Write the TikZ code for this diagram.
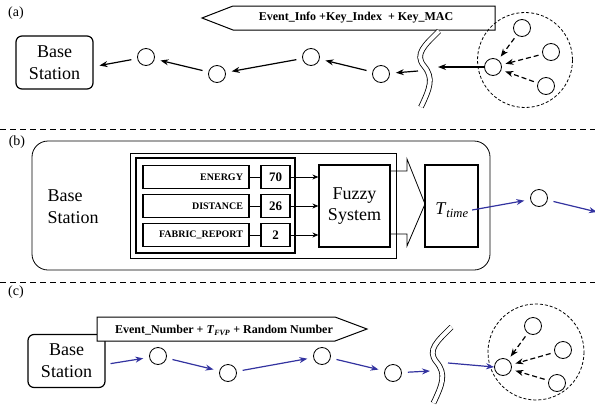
\documentclass[tikz,border=0pt]{standalone}
\usepackage{fontspec}
\setmainfont{Liberation Serif}
\usetikzlibrary{arrows.meta}

\definecolor{msgblue}{RGB}{51,51,160}

\tikzset{
    station/.style={draw, line width=1.2pt, rounded corners=6pt, minimum width=77pt, minimum height=53pt, align=center, font=\fontsize{18}{22}\selectfont},
    sensor/.style={draw, circle, line width=0.8pt, minimum size=17pt, inner sep=0pt},
    hop/.style={->, line width=1.2pt, shorten <=6pt, shorten >=6pt},
    bluehop/.style={hop, color=msgblue},
    relay/.style={->, line width=1.2pt, dash pattern=on 5pt off 3pt, shorten <=4pt, shorten >=4pt},
    packet/.style={draw, line width=1pt, fill=white},
    param/.style={draw, line width=1.2pt, minimum height=23pt, text width=94pt, inner xsep=6pt, align=right, font=\fontsize{10}{12}\selectfont\bfseries},
    value/.style={draw, line width=1.2pt, minimum width=29pt, minimum height=23pt, inner sep=0pt, font=\fontsize{13}{15}\selectfont\bfseries},
    panel/.style={font=\fontsize{14}{16}\selectfont},
    sep/.style={line width=1pt, dash pattern=on 6pt off 4pt},
    cluster/.style={line width=0.8pt, dash pattern=on 3pt off 2pt},
    wavecut/.pic={\draw[double distance=4pt, line width=0.8pt] (0,0) .. controls (-14,14) and (-25,23) .. (-15,35) .. controls (-5,47) and (-9,57) .. (-18,76);}
}

\begin{document}
\begin{tikzpicture}[x=1pt, y=-1pt, >={Stealth[length=8pt, width=6pt]}]
    \useasboundingbox (0,0) rectangle (595,410);

    % (a) event report towards the base station
    \node[panel] (pa) at (16,13) {(a)};
    \draw[packet] (202,18) -- (233,6) -- (495,6) -- (495,30) -- (233,30) -- cycle;
    \node (infoa) at (356,18) {\fontsize{12}{14}\selectfont\bfseries Event\_Info +Key\_Index\ \ + Key\_MAC};
    \node[station] (bsa) at (54.5,62.5) {Base\\Station};
    \node[sensor] (a1) at (146,57) {};
    \node[sensor] (a2) at (217,74) {};
    \node[sensor] (a3) at (311,57) {};
    \node[sensor] (a4) at (381,74) {};
    \pic at (439,31) {wavecut};
    \coordinate (wa_in) at (438,67);
    \coordinate (wa_out) at (418,71);
    \draw[cluster] (525,60) circle (47.5);
    \node[sensor] (ha) at (493,67) {};
    \node[sensor] (ta) at (522,28) {};
    \node[sensor] (ra) at (551,52) {};
    \node[sensor] (ba) at (546,86) {};
    \draw[relay] (ta) -- (ha);
    \draw[relay] (ra) -- (ha);
    \draw[relay] (ba) -- (ha);
    \draw[hop, shorten <=0pt, shorten >=0pt] (ha) -- (wa_in);
    \draw[hop, shorten <=0pt] (wa_out) -- (a4);
    \draw[hop] (a4) -- (a3);
    \draw[hop] (a3) -- (a2);
    \draw[hop] (a2) -- (a1);
    \draw[hop] (a1) -- (bsa.-6);

    \draw[sep] (0,129) -- (595,129);

    % (b) fuzzy evaluation inside the base station
    \node[panel] (pb) at (17,142) {(b)};
    \draw[line width=0.8pt, rounded corners=16pt] (32,141) rectangle (490,270);
    \node[anchor=west, align=left, font=\fontsize{18}{22}\selectfont] (bsb) at (44,207) {Base\\Station};
    \draw[line width=0.8pt] (130,153) rectangle (396,258);
    \draw[line width=1.2pt] (136,158) rectangle (295,253);
    \node[param] (pe) at (196,177) {ENERGY};
    \node[param] (pd) at (196,206) {DISTANCE};
    \node[param] (pf) at (196,235) {FABRIC\_REPORT};
    \node[value] (ve) at (275.5,177) {70};
    \node[value] (vd) at (275.5,206) {26};
    \node[value] (vf) at (275.5,235) {2};
    \node[draw, line width=1.2pt, minimum width=71pt, minimum height=82pt, align=center, font=\fontsize{18}{21}\selectfont] (fuzzy) at (354.5,206) {Fuzzy\\System};
    \foreach \p/\v in {pe/ve, pd/vd, pf/vf} {
        \draw[line width=0.8pt] (\p.east) -- (\v.west);
        \draw[->, >={Stealth[length=6pt, width=5pt]}, line width=0.8pt] (\v.east) -- (\v.east -| fuzzy.west);
    }
    \draw[line width=0.8pt] (390,171) -- (407,171) -- (407,159) -- (425,204) -- (407,246) -- (407,234) -- (390,234);
    \node[draw, line width=1.2pt, minimum width=53pt, minimum height=82pt] (tbox) at (451.5,206) {};
    \node (ttext) at (452,210) {\fontsize{18}{20}\selectfont\textit{T}\textsubscript{\textit{time}}};
    \node[sensor] (b1) at (539,198) {};
    \coordinate (bout) at (597,212);
    \draw[bluehop, shorten <=0pt] (ttext.east) -- (b1);
    \draw[bluehop, shorten >=0pt] (b1) -- (bout);

    \draw[sep] (0,282) -- (595,282);

    % (c) broadcast back to the cluster
    \node[panel] (pc) at (16,292) {(c)};
    \node[station] (bsc) at (66.5,361) {Base\\Station};
    \draw[packet] (97,317) -- (335,317) -- (367,329) -- (335,341) -- (97,341) -- cycle;
    \node (infoc) at (224,330) {\fontsize{12}{14}\selectfont\bfseries Event\_Number + \textit{T}\textsubscript{\textit{FVP}} + Random Number};
    \node[sensor] (c1) at (158,356) {};
    \node[sensor] (c2) at (228,373) {};
    \node[sensor] (c3) at (322,356) {};
    \node[sensor] (c4) at (393,373) {};
    \pic at (451.5,327) {wavecut};
    \coordinate (wc_in) at (430,371);
    \coordinate (wc_out) at (448,363);
    \draw[cluster] (536,352) circle (48);
    \node[sensor] (hc) at (503,367) {};
    \node[sensor] (tc) at (533,326) {};
    \node[sensor] (rc) at (563,350) {};
    \node[sensor] (bc) at (557,383) {};
    \draw[relay] (tc) -- (hc);
    \draw[relay] (rc) -- (hc);
    \draw[relay] (bc) -- (hc);
    \draw[bluehop, shorten <=5pt] (bsc.-5) -- (c1);
    \draw[bluehop] (c1) -- (c2);
    \draw[bluehop] (c2) -- (c3);
    \draw[bluehop] (c3) -- (c4);
    \draw[bluehop, shorten >=0pt] (c4) -- (wc_in);
    \draw[bluehop, shorten <=0pt, shorten >=0pt] (wc_out) -- (hc.west);
\end{tikzpicture}
\end{document}
